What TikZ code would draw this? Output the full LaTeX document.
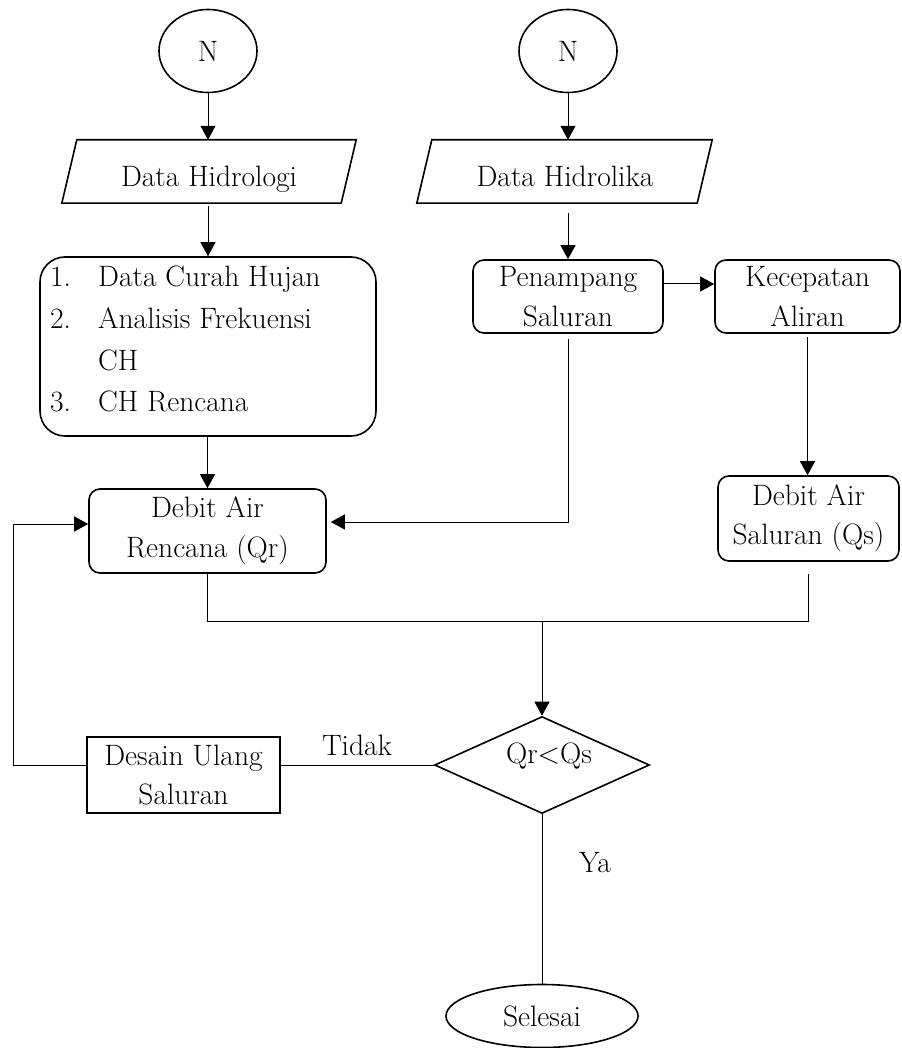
\documentclass[tikz,border=0pt]{standalone}
\usetikzlibrary{shapes.geometric,arrows.meta}
\newcommand\fsz{\fontsize{29.5}{39.5}\selectfont}
\begin{document}
\begin{tikzpicture}[x=1pt,y=-1pt,
  every node/.style={font=\fsz},
  shp/.style={draw, line width=1.6pt},
  box/.style={shp, rounded corners=11pt, inner sep=0pt, align=center},
  rbox/.style={shp, inner sep=0pt, align=center},
  oval/.style={shp, ellipse, inner sep=0pt},
  txt/.style={inner sep=0pt, anchor=base},
  ltxt/.style={inner sep=0pt, anchor=base west},
  iobox/.style={inner sep=0pt, minimum height=63pt},
  conn/.style={line width=1pt},
  arr/.style={conn, -{Triangle[length=14pt,width=15pt]}}
]
\useasboundingbox (0,0) rectangle (901,1048);

% start circles
\node[oval, minimum width=98pt, minimum height=83pt] (n1) at (208,51) {N};
\node[oval, minimum width=98pt, minimum height=83pt] (n2) at (568,51) {N};

% input parallelograms
\node[iobox, minimum width=279pt] (dh) at (209,171.5) {};
\draw[shp] ([xshift=-7.5pt]dh.south west) -- ([xshift=7.5pt]dh.north west) -- ([xshift=7.5pt]dh.north east) -- ([xshift=-7.5pt]dh.south east) -- cycle;
\node[txt] (dht) at (209,187) {Data Hidrologi};

\node[iobox, minimum width=280pt] (dhk) at (564.5,171.5) {};
\draw[shp] ([xshift=-7.5pt]dhk.south west) -- ([xshift=7.5pt]dhk.north west) -- ([xshift=7.5pt]dhk.north east) -- ([xshift=-7.5pt]dhk.south east) -- cycle;
\node[txt] (dhkt) at (565,187) {Data Hidrolika};

% list box
\node[box, rounded corners=25pt, minimum width=336pt, minimum height=179pt] (list) at (208,346.5) {};
\node[ltxt] (l1n) at (50,287) {1.};
\node[ltxt] (l1t) at (98,287) {Data Curah Hujan};
\node[ltxt] (l2n) at (50,328) {2.};
\node[ltxt] (l2t) at (98,328) {Analisis Frekuensi};
\node[ltxt] (l2c) at (98,370) {CH};
\node[ltxt] (l3n) at (50,411) {3.};
\node[ltxt] (l3t) at (98,411) {CH Rencana};

% process boxes
\node[box, minimum width=190pt, minimum height=73pt] (pen) at (568,296.5) {Penampang\\Saluran};
\node[box, minimum width=185pt, minimum height=73pt] (kec) at (807.5,296.5) {Kecepatan\\Aliran};
\node[box, minimum width=237pt, minimum height=84pt] (renc) at (207.5,531) {Debit Air\\Rencana (Qr)};
\node[box, minimum width=181pt, minimum height=85pt] (qs) at (808.5,518.5) {Debit Air\\Saluran (Qs)};
\node[rbox, minimum width=193pt, minimum height=76pt] (des) at (183.5,775) {Desain Ulang\\Saluran};

% decision
\node[shp, diamond, inner sep=0pt, minimum width=215pt, minimum height=97pt] (dec) at (542,765) {};
\node[txt] (dect) at (549,763) {Qr<Qs};

% end
\node[oval, minimum width=192pt, minimum height=63pt] (sel) at (542,1016) {Selesai};

% labels
\node[txt] (tidak) at (357,755) {Tidak};
\node[txt] (ya) at (595,872) {Ya};

% connectors
\draw[arr] (n1) -- (n1 |- dh.north);
\draw[arr] ([yshift=-3pt]dh.south -| n1) -- (n1 |- list.north);
\draw[arr] (n2) -- (n2 |- dhk.north);
\draw[arr] ([yshift=-10pt]dhk.south -| pen) -- (pen.north);
\draw[arr] ([yshift=12.5pt]pen.east) -- ([yshift=12.5pt]pen.east -| kec.west);
\draw[arr] ([yshift=-5pt]pen.south) |- ([yshift=9pt,xshift=4pt]renc.east);
\draw[arr] ([yshift=-3pt]kec.south) -- (kec.south |- qs.north);
\draw[arr] (list.south -| renc) -- (renc.north);

\coordinate (j) at (542,621);
\draw[conn] (renc.south) -- (renc.south |- j) -- (qs.south |- j) -- ([yshift=-12pt]qs.south);
\draw[arr] (j) -- (dec.north);

\draw[conn] (dec.west) -- (dec.west -| des.east);
\draw[arr] (dec.west -| des.west) -- ++(-73,0) |- ([yshift=7pt]renc.west);
\draw[conn] (dec.south) -- (sel.north);
\end{tikzpicture}
\end{document}
